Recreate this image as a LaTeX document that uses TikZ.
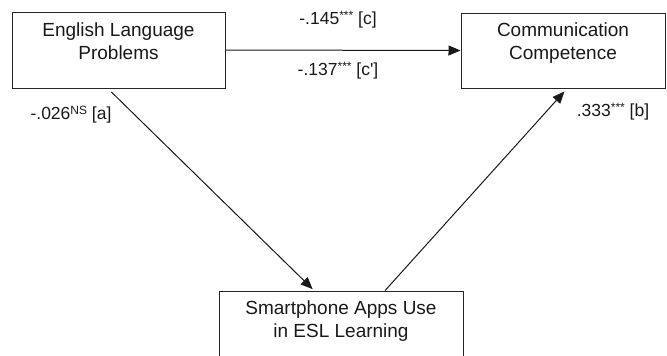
\documentclass[tikz,border=0pt]{standalone}
\usepackage{fontspec}
\setmainfont{Liberation Sans}
\usetikzlibrary{arrows.meta,calc}
\newcommand{\sig}[1]{\raisebox{0.55ex}{\fontsize{12}{12}\selectfont #1}}
\begin{document}
\begin{tikzpicture}[x=1pt,y=-1pt,
  varbox/.style={draw=black!85,line width=1pt,inner sep=0pt},
  boxtext/.style={align=center,font=\fontsize{19}{23.5}\selectfont,text=black!90,anchor=north},
  coef/.style={font=\fontsize{17.5}{20}\selectfont,text=black!90},
  path/.style={draw=black!90,line width=1pt,-{Triangle[length=12pt,width=10pt]}}]
  \useasboundingbox (0,0) rectangle (667,356);
  % variable boxes
  \node[varbox,minimum width=213pt,minimum height=76pt] (elp) at (118.5,50) {};
  \node[varbox,minimum width=204pt,minimum height=75pt] (cc) at (563,50.5) {};
  \node[varbox,minimum width=244pt,minimum height=80pt] (apps) at (341,331) {};
  \node[boxtext] (elpt) at (118.5,19) {English Language\\Problems};
  \node[boxtext] (cct) at (563,19) {Communication\\Competence};
  \node[boxtext] (appst) at (341,297) {Smartphone Apps Use\\in ESL Learning};
  % paths between the variables
  \coordinate (ea) at ($(elp.south west)!0.45!(elp.south east)$);
  \coordinate (ab) at ($(apps.north west)!0.39!(apps.north east)$);
  \coordinate (ba) at ($(apps.north west)!0.68!(apps.north east)$);
  \coordinate (cb) at ($(cc.south west)!0.52!(cc.south east)$);
  \draw[path] (elp.east) -- (cc.west);
  \draw[path,shorten <=5pt,shorten >=2pt] (ea) -- (ab);
  \draw[path,shorten >=4pt] (ba) -- (cb);
  % coefficients
  \node[coef] (c) at (338,20) {-.145\sig{***} [c]};
  \node[coef] (cp) at (338,71) {-.137\sig{***} [c\textquotesingle]};
  \node[coef] (a) at (71,115) {-.026\sig{NS} [a]};
  \node[coef] (b) at (613,112) {.333\sig{***} [b]};
\end{tikzpicture}
\end{document}
